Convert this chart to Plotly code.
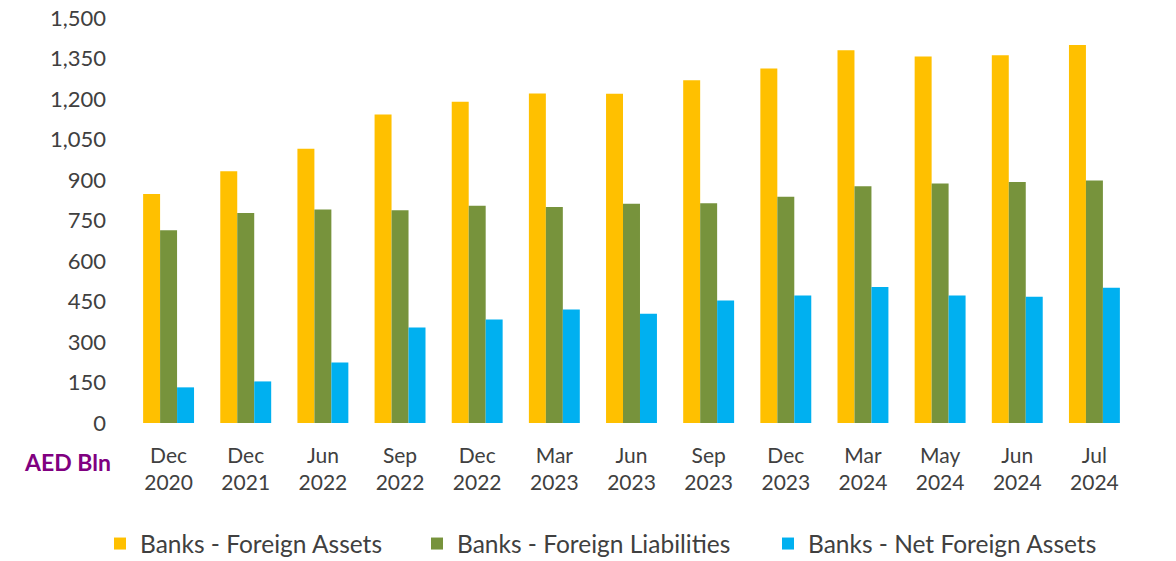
import plotly.graph_objects as go

categories = ["Dec<br>2020", "Dec<br>2021", "Jun<br>2022", "Sep<br>2022", "Dec<br>2022", "Mar<br>2023",
              "Jun<br>2023", "Sep<br>2023", "Dec<br>2023", "Mar<br>2024", "May<br>2024", "Jun<br>2024", "Jul<br>2024"]
foreign_assets = [848, 932, 1016, 1143, 1190, 1220, 1219, 1269, 1313, 1381, 1357, 1362, 1400]
foreign_liabilities = [714, 778, 791, 788, 805, 800, 812, 814, 838, 877, 887, 893, 898]
net_foreign_assets = [132, 154, 224, 354, 383, 420, 405, 454, 472, 504, 472, 468, 501]
y_ticks = [0, 150, 300, 450, 600, 750, 900, 1050, 1200, 1350, 1500]

font_family = "Lato, 'Open Sans', sans-serif"
text_color = "#404040"

fig = go.Figure()
fig.add_trace(go.Bar(x=categories, y=foreign_assets, name="Banks - Foreign Assets",
                     marker=dict(color="#FFC000", line=dict(width=0)), legend="legend"))
fig.add_trace(go.Bar(x=categories, y=foreign_liabilities, name="Banks - Foreign Liabilities",
                     marker=dict(color="#77933C", line=dict(width=0)), legend="legend2"))
fig.add_trace(go.Bar(x=categories, y=net_foreign_assets, name="Banks - Net Foreign Assets",
                     marker=dict(color="#00B0F0", line=dict(width=0)), legend="legend3"))

legend_common = dict(orientation="h", xanchor="left", yref="container", xref="container",
                     y=0.031, yanchor="middle", font=dict(size=24.5, color=text_color),
                     itemwidth=30, bgcolor="rgba(0,0,0,0)")

fig.update_layout(
    width=1176, height=561,
    margin=dict(l=130, r=43, t=18, b=138, autoexpand=False),
    paper_bgcolor="white", plot_bgcolor="white",
    barmode="group", bargap=0.34, bargroupgap=0,
    font=dict(family=font_family, size=21, color=text_color),
    showlegend=True,
    legend=dict(x=100 / 1176, **legend_common),
    legend2=dict(x=417 / 1176, **legend_common),
    legend3=dict(x=768 / 1176, **legend_common),
    xaxis=dict(showgrid=False, showline=False, ticks="", ticklabelstandoff=18,
               tickfont=dict(size=21, color=text_color)),
    yaxis=dict(range=[0, 1500], tickvals=y_ticks, tickformat=",", showgrid=False,
               showline=False, zeroline=False, ticks="", ticklabelstandoff=23,
               tickfont=dict(size=22, color=text_color)),
    annotations=[dict(text="<b>AED Bln</b>", xref="paper", yref="paper", x=-0.017, y=-0.097,
                      xanchor="right", yanchor="middle", showarrow=False,
                      font=dict(size=23, color="#800080", family=font_family))],
)

fig.write_html("out.html")
